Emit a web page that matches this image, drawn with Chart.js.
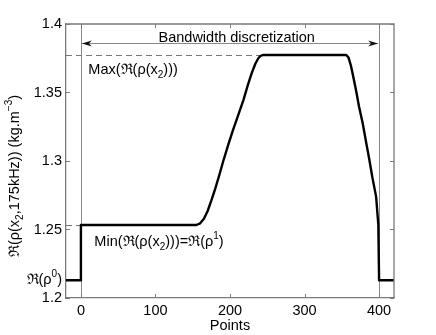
<!DOCTYPE html>
<html>
<head>
<meta charset="utf-8">
<script src="https://cdn.jsdelivr.net/npm/chart.js@4"></script>
<style>
  html, body { margin: 0; padding: 0; background: #fff; }
  #wrap { width: 436px; height: 335px; }
</style>
</head>
<body>
<div id="wrap"><canvas id="densityPlot" width="436" height="335"></canvas></div>
<script>
// values
const pointsX  = [-20, 0, 0, 155, 160, 165, 170, 175, 180, 185, 191, 198, 204, 211, 218, 224, 229, 234, 238, 241, 245,
                  356, 359, 362, 365, 369, 373, 378, 383, 387, 391, 396, 399, 400, 420];
const densityY = [1.213, 1.213, 1.2533, 1.2533, 1.2545, 1.2578, 1.2635, 1.2712, 1.2795, 1.2885, 1.300, 1.3125, 1.3226,
                  1.3335, 1.3445, 1.3555, 1.364, 1.371, 1.375, 1.3768, 1.3774,
                  1.3774, 1.3755, 1.370, 1.3625, 1.3518, 1.340, 1.3275, 1.3125, 1.3007, 1.288, 1.274, 1.2533, 1.213, 1.213];
const xTicks = [0, 100, 200, 300, 400];
const yTicks = [1.2, 1.25, 1.3, 1.35, 1.4];
const yTickLabels = ['1.2', '1.25', '1.3', '1.35', '1.4'];
const rho0 = 1.213;
const rho1 = 1.2533;
const rhoMax = 1.3774;
const bandStart = 0, bandEnd = 400;
const plateauStart = 240;

const FONT = '"Liberation Sans", Arial, Helvetica, sans-serif';
const AXIS_GRAY = '#7a7a7a';
const FS = 14.5;

// text with sub/superscripts: parts = [[text, 'n'|'sub'|'sup'], ...]
function richWidth(ctx, parts, size) {
  let w = 0;
  parts.forEach(([t, k]) => {
    ctx.font = (k === 'n' ? size : Math.round(size * 0.72)) + 'px ' + FONT;
    w += ctx.measureText(t).width;
  });
  return w;
}
function drawRich(ctx, parts, x, y, size, align) {
  const w = richWidth(ctx, parts, size);
  let cx = align === 'right' ? x - w : align === 'center' ? x - w / 2 : x;
  ctx.textBaseline = 'middle';
  ctx.textAlign = 'left';
  parts.forEach(([t, k]) => {
    const small = Math.round(size * 0.72);
    ctx.font = (k === 'n' ? size : small) + 'px ' + FONT;
    const dy = k === 'sub' ? size * 0.35 : k === 'sup' ? -size * 0.4 : 0;
    ctx.fillText(t, cx, y + dy);
    cx += ctx.measureText(t).width;
  });
}

const annotations = {
  id: 'annotations',
  beforeDatasetsDraw(chart) {
    const {ctx, chartArea: a, scales: {x, y}} = chart;
    ctx.save();
    // thin verticals at band limits
    ctx.strokeStyle = '#8a8a8a';
    ctx.lineWidth = 1;
    [bandStart, bandEnd].forEach(v => {
      const px = Math.round(x.getPixelForValue(v)) + 0.5;
      ctx.beginPath(); ctx.moveTo(px, a.top); ctx.lineTo(px, a.bottom); ctx.stroke();
    });
    // dashed level lines
    ctx.setLineDash([6, 4]);
    ctx.strokeStyle = '#777';
    let py = Math.round(y.getPixelForValue(rhoMax)) + 0.5;
    ctx.beginPath(); ctx.moveTo(a.left, py); ctx.lineTo(x.getPixelForValue(plateauStart), py); ctx.stroke();
    py = Math.round(y.getPixelForValue(rho1)) + 0.5;
    ctx.beginPath(); ctx.moveTo(a.left, py); ctx.lineTo(x.getPixelForValue(0), py); ctx.stroke();
    ctx.setLineDash([]);
    ctx.restore();
  },
  afterDraw(chart) {
    const {ctx, chartArea: a, scales: {x, y}} = chart;
    ctx.save();
    // frame top/right
    ctx.strokeStyle = AXIS_GRAY;
    ctx.lineWidth = 1.3;
    ctx.beginPath();
    ctx.moveTo(a.left, a.top); ctx.lineTo(a.right, a.top); ctx.lineTo(a.right, a.bottom);
    ctx.stroke();
    // inward ticks
    ctx.lineWidth = 1;
    xTicks.forEach(v => {
      const px = Math.round(x.getPixelForValue(v)) + 0.5;
      ctx.beginPath();
      ctx.moveTo(px, a.bottom); ctx.lineTo(px, a.bottom - 4);
      ctx.moveTo(px, a.top); ctx.lineTo(px, a.top + 4);
      ctx.stroke();
    });
    yTicks.forEach(v => {
      const py = Math.round(y.getPixelForValue(v)) + 0.5;
      ctx.beginPath();
      ctx.moveTo(a.left, py); ctx.lineTo(a.left + 4, py);
      ctx.moveTo(a.right, py); ctx.lineTo(a.right - 4, py);
      ctx.stroke();
    });

    // bandwidth double arrow
    const ay = Math.round(y.getPixelForValue(1.3861)) + 0.5;
    const x0 = x.getPixelForValue(bandStart) + 1, x1 = x.getPixelForValue(bandEnd) - 1;
    ctx.strokeStyle = '#888';
    ctx.lineWidth = 1;
    ctx.beginPath(); ctx.moveTo(x0, ay); ctx.lineTo(x1, ay); ctx.stroke();
    ctx.fillStyle = '#111';
    ctx.beginPath(); ctx.moveTo(x0, ay); ctx.lineTo(x0 + 10, ay - 3); ctx.lineTo(x0 + 7, ay); ctx.lineTo(x0 + 10, ay + 3); ctx.closePath(); ctx.fill();
    ctx.beginPath(); ctx.moveTo(x1, ay); ctx.lineTo(x1 - 10, ay - 3); ctx.lineTo(x1 - 7, ay); ctx.lineTo(x1 - 10, ay + 3); ctx.closePath(); ctx.fill();

    // texts
    ctx.fillStyle = '#000';
    drawRich(ctx, [['Bandwidth discretization', 'n']], x.getPixelForValue(209), y.getPixelForValue(1.3898), FS, 'center');
    drawRich(ctx, [['Max(ℜ(ρ(x', 'n'], ['2', 'sub'], [')))', 'n']],
      x.getPixelForValue(10), y.getPixelForValue(1.3664), FS, 'left');
    drawRich(ctx, [['Min(ℜ(ρ(x', 'n'], ['2', 'sub'], [')))=ℜ(ρ', 'n'], ['1', 'sup'], [')', 'n']],
      x.getPixelForValue(18), y.getPixelForValue(1.2411), FS, 'left');
    // extra y label for rho0
    drawRich(ctx, [['ℜ(ρ', 'n'], ['0', 'sup'], [')', 'n']], a.left - 4, y.getPixelForValue(rho0), FS, 'right');

    // y title, rotated
    ctx.translate(15, 176);
    ctx.rotate(-Math.PI / 2);
    drawRich(ctx, [['ℜ(ρ(x', 'n'], ['2', 'sub'], [',175kHz)) (kg.m', 'n'], ['−3', 'sup'], [')', 'n']], 0, 0, FS, 'center');
    ctx.restore();
  }
};

new Chart(document.getElementById('densityPlot'), {
  type: 'scatter',
  data: {
    datasets: [{
      data: pointsX.map((v, i) => ({x: v, y: densityY[i]})),
      showLine: true,
      borderColor: '#000',
      borderWidth: 2.4,
      borderJoinStyle: 'round',
      pointRadius: 0,
      tension: 0,
      clip: 0
    }]
  },
  options: {
    responsive: false,
    animation: false,
    layout: {padding: {left: 0, top: 24, right: 42, bottom: 0}},
    plugins: {legend: {display: false}, tooltip: {enabled: false}},
    scales: {
      x: {
        type: 'linear',
        min: -20,
        max: 420,
        afterBuildTicks: s => { s.ticks = xTicks.map(v => ({value: v})); },
        afterFit: s => { s.height = 37; },
        grid: {display: false, drawTicks: false},
        border: {display: true, color: AXIS_GRAY, width: 1.3},
        ticks: {color: '#000', padding: 4, font: {family: FONT, size: FS}},
        title: {display: true, text: 'Points', color: '#000', padding: 0, font: {family: FONT, size: FS}}
      },
      y: {
        type: 'linear',
        min: 1.2,
        max: 1.4,
        afterBuildTicks: s => { s.ticks = yTicks.map(v => ({value: v})); },
        afterFit: s => { s.width = 66; },
        grid: {display: false, drawTicks: false},
        border: {display: true, color: AXIS_GRAY, width: 1.3},
        ticks: {
          color: '#000', padding: 4, font: {family: FONT, size: FS},
          callback: (v, i) => yTickLabels[i]
        }
      }
    }
  },
  plugins: [annotations]
});
</script>
</body>
</html>
